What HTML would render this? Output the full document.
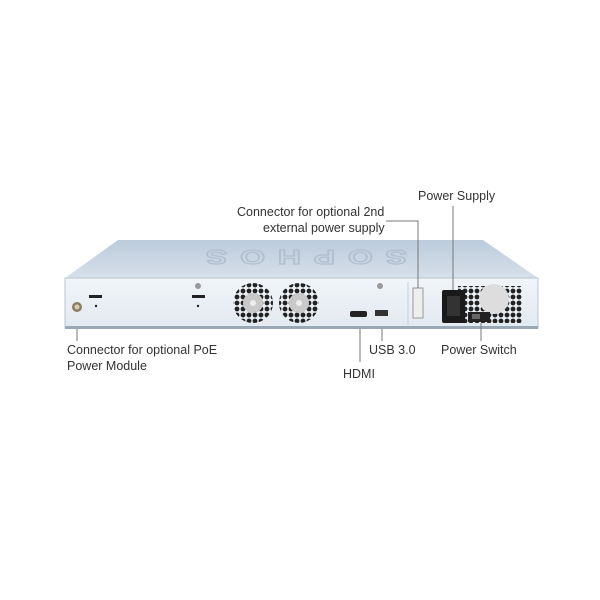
<!DOCTYPE html>
<html><head><style>
body{margin:0;background:#fff;width:600px;height:600px;overflow:hidden}
.t{position:absolute;font-family:"Liberation Sans",sans-serif;font-size:12.5px;color:#333;white-space:nowrap;line-height:16px}
</style></head><body>
<svg width="600" height="600" style="position:absolute;left:0;top:0">
<defs>
<linearGradient id="top" x1="0" y1="0" x2="0" y2="1"><stop offset="0" stop-color="#bccbdb"/><stop offset="1" stop-color="#d6e0ea"/></linearGradient>
<linearGradient id="fr" x1="0" y1="0" x2="0" y2="1"><stop offset="0" stop-color="#f1f5f9"/><stop offset="1" stop-color="#e2e9f0"/></linearGradient>
<pattern id="hex" width="6" height="6" patternUnits="userSpaceOnUse"><circle cx="3" cy="3" r="2.4" fill="#222"/></pattern>
</defs>
<polygon points="118,240 483,240 538,278 65,278" fill="url(#top)"/>
<g transform="translate(300,258) scale(-1.6,-1)">
<text x="0" y="8" font-family="Liberation Sans" font-size="20" font-weight="bold" fill="none" stroke="#b0bfce" stroke-width="1.2" text-anchor="middle" letter-spacing="8">SOPHOS</text>
</g>
<rect x="65" y="278" width="473" height="50" fill="url(#fr)" stroke="#b8c4d0" stroke-width="1"/>
<rect x="65" y="326" width="473" height="3" fill="#9aa7b4"/>
<line x1="408" y1="282" x2="408" y2="325" stroke="#c5ced8"/>
<circle cx="77" cy="307" r="5" fill="#8a7e62"/><circle cx="77" cy="307" r="2.5" fill="#d8cfb5"/>
<rect x="89" y="295" width="13" height="3" fill="#222"/><circle cx="96" cy="306" r="1.2" fill="#222"/>
<rect x="192" y="295" width="13" height="3" fill="#222"/><circle cx="198" cy="306" r="1.2" fill="#222"/>
<circle cx="198" cy="286" r="3" fill="#999"/><circle cx="380" cy="286" r="3" fill="#999"/>
<circle cx="253" cy="303" r="20" fill="url(#hex)"/><circle cx="253" cy="303" r="10" fill="#c9c9c9"/><circle cx="253" cy="303" r="3" fill="#eee"/>
<circle cx="299" cy="303" r="20" fill="url(#hex)"/><circle cx="299" cy="303" r="10" fill="#c9c9c9"/><circle cx="299" cy="303" r="3" fill="#eee"/>
<rect x="350" y="311" width="17" height="6" rx="2" fill="#222"/>
<rect x="375" y="310" width="13" height="6" fill="#333"/>
<rect x="413" y="288" width="10" height="30" fill="#eee" stroke="#999"/>
<rect x="458" y="286" width="64" height="37" fill="url(#hex)"/>
<circle cx="494" cy="299" r="15" fill="#ddd"/>
<rect x="442" y="290" width="23" height="33" rx="2" fill="#1a1a1a"/>
<rect x="447" y="296" width="13" height="20" fill="#333"/>
<rect x="468" y="312" width="22" height="10" fill="#222"/><rect x="472" y="314" width="8" height="5" fill="#666"/>
<g stroke="#777" stroke-width="1" fill="none">
<polyline points="386,221 418,221 418,288"/>
<line x1="453" y1="206" x2="453" y2="290"/>
<line x1="77" y1="329" x2="77" y2="341"/>
<line x1="360" y1="329" x2="360" y2="362"/>
<line x1="382" y1="329" x2="382" y2="341"/>
<line x1="481" y1="323" x2="481" y2="341"/>
</g>
</svg>
<div class="t" style="left:418px;top:188px">Power Supply</div>
<div class="t" style="left:237px;top:204px">Connector for optional 2nd</div>
<div class="t" style="left:263px;top:220px">external power supply</div>
<div class="t" style="left:67px;top:342px">Connector for optional PoE</div>
<div class="t" style="left:67px;top:358px">Power Module</div>
<div class="t" style="left:343px;top:366px">HDMI</div>
<div class="t" style="left:369px;top:342px">USB 3.0</div>
<div class="t" style="left:441px;top:342px">Power Switch</div>
</body></html>
